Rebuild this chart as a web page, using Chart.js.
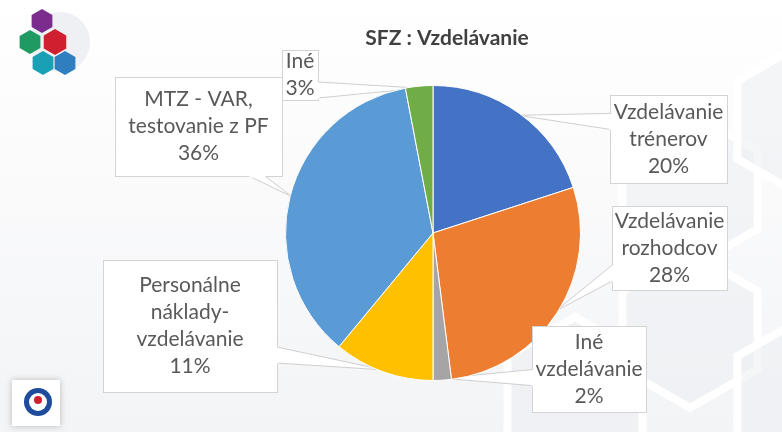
<!DOCTYPE html>
<html>
<head>
<meta charset="utf-8">
<script src="https://cdn.jsdelivr.net/npm/chart.js@4.4.0/dist/chart.umd.min.js"></script>
<style>
  html, body { margin: 0; padding: 0; background: #ffffff; }
  #wrap { width: 782px; height: 432px; }
</style>
</head>
<body>
<div id="wrap"><canvas id="pieChart" width="782" height="432"></canvas></div>
<script>
const chartTitle = 'SFZ : Vzdelávanie';
const labels = ['Vzdelávanie trénerov', 'Vzdelávanie rozhodcov', 'Iné vzdelávanie',
    'Personálne náklady-vzdelávanie', 'MTZ - VAR, testovanie z PF', 'Iné'];
const calloutText = [
    ['Vzdelávanie', 'trénerov'],
    ['Vzdelávanie', 'rozhodcov'],
    ['Iné', 'vzdelávanie'],
    ['Personálne', 'náklady-', 'vzdelávanie'],
    ['MTZ - VAR,', 'testovanie z PF'],
    ['Iné']
];
const values = [20, 28, 2, 11, 36, 3];
const colors = ['#4472C4', '#ED7D31', '#A5A5A5', '#FFC000', '#5B9BD5', '#70AD47'];

// where each callout box sits and which side its pointer leaves from
const callouts = [
    { x: 610, y: 95, w: 117, h: 88, side: 'left', at: 0.3 },
    { x: 612, y: 206, w: 115, h: 84, side: 'left', at: 0.8 },
    { x: 532, y: 326, w: 114, h: 86, side: 'left', at: 0.6 },
    { x: 103, y: 260, w: 174, h: 132, side: 'right', at: 0.72 },
    { x: 115, y: 77, w: 167, h: 99, side: 'bottom', at: 0.85 },
    { x: 282, y: 50, w: 36, h: 50, side: 'right', at: 0.8 }
];

const textColor = '#595959';
const fontFamily = 'Lato, "Open Sans", sans-serif';

function hexagon(ctx, cx, cy, r, fill) {
    ctx.beginPath();
    for (let i = 0; i < 6; i++) {
        const a = Math.PI / 6 + i * Math.PI / 3;
        const px = cx + r * Math.cos(a);
        const py = cy + r * Math.sin(a);
        if (i === 0) ctx.moveTo(px, py); else ctx.lineTo(px, py);
    }
    ctx.closePath();
    if (fill) { ctx.fillStyle = fill; ctx.fill(); } else { ctx.stroke(); }
}

const backgroundPlugin = {
    id: 'slideBackground',
    beforeDraw(chart) {
        const ctx = chart.ctx;
        ctx.save();
        const g = ctx.createLinearGradient(0, 0, 0, chart.height);
        g.addColorStop(0, '#ffffff');
        g.addColorStop(1, '#f3f4f6');
        ctx.fillStyle = g;
        ctx.fillRect(0, 0, chart.width, chart.height);

        // faint hexagon pattern on the right
        ctx.strokeStyle = 'rgba(255,255,255,0.95)';
        ctx.lineWidth = 8;
        const hx = [[690, 190], [690, 330], [575, 395], [805, 395], [805, 120]];
        hx.forEach(p => {
            hexagon(ctx, p[0], p[1], 78, 'rgba(236,238,241,0.5)');
            hexagon(ctx, p[0], p[1], 78);
        });

        // top-left logo
        ctx.fillStyle = '#eef0f3';
        ctx.beginPath();
        ctx.arc(60, 42, 30, 0, Math.PI * 2);
        ctx.fill();
        hexagon(ctx, 42, 21, 12, '#7b2d8e');
        hexagon(ctx, 30, 42, 12, '#1f9a63');
        hexagon(ctx, 55, 42, 13, '#d0202f');
        hexagon(ctx, 43, 63, 12, '#1aa0b5');
        hexagon(ctx, 65, 63, 12, '#2f7fc0');

        // bottom-left logo
        ctx.shadowColor = 'rgba(0,0,0,0.25)';
        ctx.shadowBlur = 6;
        ctx.fillStyle = '#ffffff';
        ctx.fillRect(12, 380, 48, 46);
        ctx.shadowBlur = 0;
        ctx.fillStyle = '#1e4b9c';
        ctx.beginPath();
        ctx.arc(38, 402, 14, 0, Math.PI * 2);
        ctx.fill();
        ctx.fillStyle = '#ffffff';
        ctx.beginPath();
        ctx.arc(38, 402, 9, 0, Math.PI * 2);
        ctx.fill();
        ctx.fillStyle = '#d0202f';
        ctx.beginPath();
        ctx.arc(38, 400, 4, 0, Math.PI * 2);
        ctx.fill();

        // title
        ctx.fillStyle = '#404040';
        ctx.font = 'bold 21px ' + fontFamily;
        ctx.textAlign = 'center';
        ctx.textBaseline = 'middle';
        ctx.fillText(chartTitle, 447, 38);
        ctx.restore();
    }
};

function baseOf(c) {
    const half = 8;
    if (c.side === 'left' || c.side === 'right') {
        const x = c.side === 'left' ? c.x : c.x + c.w;
        const y = c.y + c.h * c.at;
        return [[x, Math.max(c.y, y - half)], [x, Math.min(c.y + c.h, y + half)]];
    }
    const y = c.side === 'top' ? c.y : c.y + c.h;
    const x = c.x + c.w * c.at;
    return [[Math.max(c.x, x - half), y], [Math.min(c.x + c.w, x + half), y]];
}

const calloutPlugin = {
    id: 'callouts',
    beforeDatasetsDraw(chart) {
        const ctx = chart.ctx;
        const meta = chart.getDatasetMeta(0);
        ctx.save();
        meta.data.forEach((arc, i) => {
            const p = arc.getProps(['x', 'y', 'startAngle', 'endAngle', 'outerRadius'], true);
            const mid = (p.startAngle + p.endAngle) / 2;
            const tx = p.x + Math.cos(mid) * (p.outerRadius - 2);
            const ty = p.y + Math.sin(mid) * (p.outerRadius - 2);
            const b = baseOf(callouts[i]);
            ctx.beginPath();
            ctx.moveTo(b[0][0], b[0][1]);
            ctx.lineTo(tx, ty);
            ctx.lineTo(b[1][0], b[1][1]);
            ctx.closePath();
            ctx.fillStyle = '#ffffff';
            ctx.fill();
            ctx.strokeStyle = '#cfcfcf';
            ctx.lineWidth = 1;
            ctx.beginPath();
            ctx.moveTo(b[0][0], b[0][1]);
            ctx.lineTo(tx, ty);
            ctx.lineTo(b[1][0], b[1][1]);
            ctx.stroke();
        });
        ctx.restore();
    },
    afterDatasetsDraw(chart) {
        const ctx = chart.ctx;
        ctx.save();
        callouts.forEach((c, i) => {
            ctx.fillStyle = '#ffffff';
            ctx.fillRect(c.x, c.y, c.w, c.h);
            ctx.strokeStyle = '#d4d4d4';
            ctx.lineWidth = 1;
            ctx.strokeRect(c.x + 0.5, c.y + 0.5, c.w, c.h);
            // cover box edge where the pointer joins
            const b = baseOf(c);
            ctx.strokeStyle = '#ffffff';
            ctx.lineWidth = 2;
            ctx.beginPath();
            ctx.moveTo(b[0][0] + 0.5, b[0][1] + 0.5);
            ctx.lineTo(b[1][0] + 0.5, b[1][1] + 0.5);
            ctx.stroke();

            const lines = calloutText[i].concat([values[i] + '%']);
            const lh = 27;
            ctx.fillStyle = textColor;
            ctx.font = '21px ' + fontFamily;
            ctx.textAlign = 'center';
            ctx.textBaseline = 'middle';
            const top = c.y + c.h / 2 - (lines.length - 1) * lh / 2;
            lines.forEach((t, k) => ctx.fillText(t, c.x + c.w / 2, top + k * lh));
        });
        ctx.restore();
    }
};

const ctx = document.getElementById('pieChart').getContext('2d');
const pieChart = new Chart(ctx, {
    type: 'pie',
    data: {
        labels: labels,
        datasets: [{
            data: values,
            backgroundColor: colors,
            borderColor: '#ffffff',
            borderWidth: 1,
            hoverOffset: 0
        }]
    },
    options: {
        responsive: false,
        animation: false,
        layout: { padding: { left: 285, right: 201, top: 85, bottom: 51 } },
        plugins: {
            legend: { display: false },
            tooltip: { enabled: false },
            title: { display: false }
        }
    },
    plugins: [backgroundPlugin, calloutPlugin]
});
</script>
</body>
</html>
